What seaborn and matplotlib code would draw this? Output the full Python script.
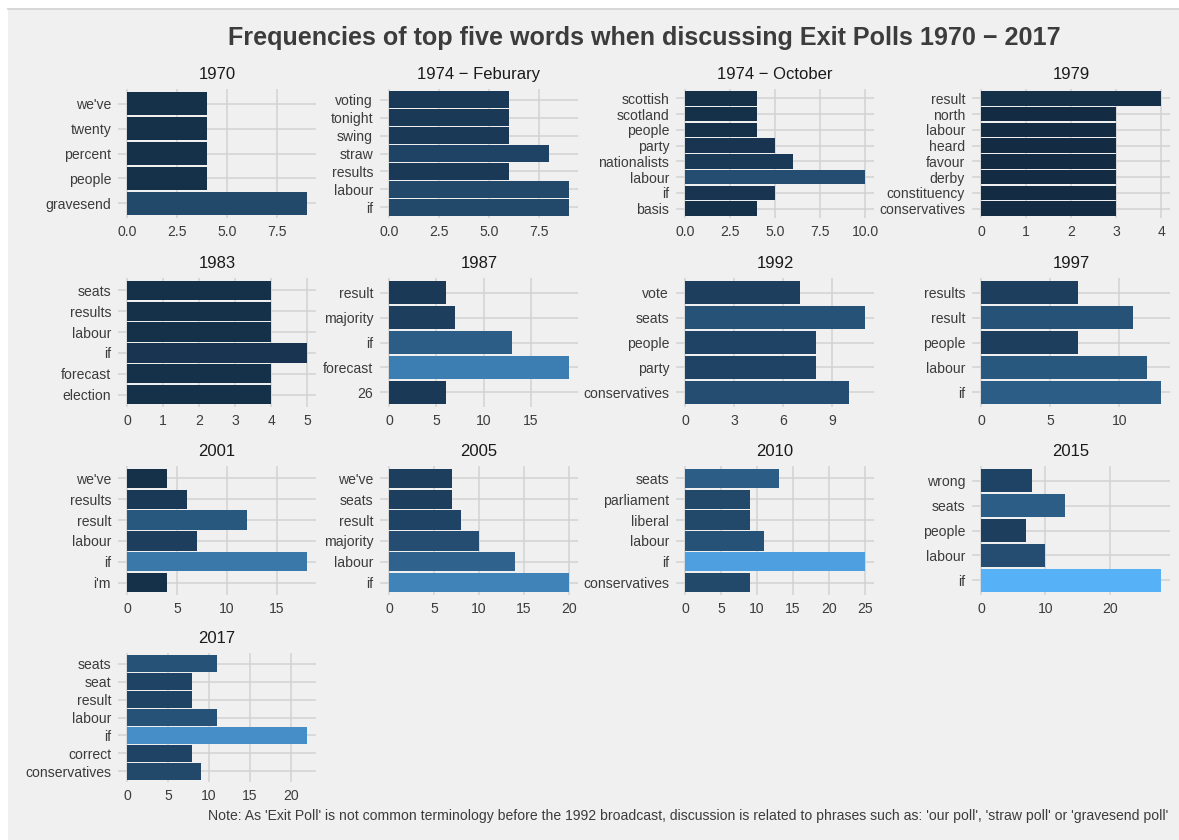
import numpy as np
import pandas as pd
import matplotlib
matplotlib.use("Agg")
import matplotlib.pyplot as plt
import matplotlib.colors as mcolors
import seaborn as sns

# ---------------- data ----------------
title_1970 = "1970"
words_1970 = ["we've", "twenty", "percent", "people", "gravesend"]
freq_1970 = [4, 4, 4, 4, 9]
ticks_1970 = ["0.0", "2.5", "5.0", "7.5"]

title_1974f = "1974 \u2212 Feburary"
words_1974f = ["voting", "tonight", "swing", "straw", "results", "labour", "if"]
freq_1974f = [6, 6, 6, 8, 6, 9, 9]
ticks_1974f = ["0.0", "2.5", "5.0", "7.5"]

title_1974o = "1974 \u2212 October"
words_1974o = ["scottish", "scotland", "people", "party", "nationalists", "labour", "if", "basis"]
freq_1974o = [4, 4, 4, 5, 6, 10, 5, 4]
ticks_1974o = ["0.0", "2.5", "5.0", "7.5", "10.0"]

title_1979 = "1979"
words_1979 = ["result", "north", "labour", "heard", "favour", "derby", "constituency", "conservatives"]
freq_1979 = [4, 3, 3, 3, 3, 3, 3, 3]
ticks_1979 = ["0", "1", "2", "3", "4"]

title_1983 = "1983"
words_1983 = ["seats", "results", "labour", "if", "forecast", "election"]
freq_1983 = [4, 4, 4, 5, 4, 4]
ticks_1983 = ["0", "1", "2", "3", "4", "5"]

title_1987 = "1987"
words_1987 = ["result", "majority", "if", "forecast", "26"]
freq_1987 = [6, 7, 13, 19, 6]
ticks_1987 = ["0", "5", "10", "15"]

title_1992 = "1992"
words_1992 = ["vote", "seats", "people", "party", "conservatives"]
freq_1992 = [7, 11, 8, 8, 10]
ticks_1992 = ["0", "3", "6", "9"]

title_1997 = "1997"
words_1997 = ["results", "result", "people", "labour", "if"]
freq_1997 = [7, 11, 7, 12, 13]
ticks_1997 = ["0", "5", "10"]

title_2001 = "2001"
words_2001 = ["we've", "results", "result", "labour", "if", "i'm"]
freq_2001 = [4, 6, 12, 7, 18, 4]
ticks_2001 = ["0", "5", "10", "15"]

title_2005 = "2005"
words_2005 = ["we've", "seats", "result", "majority", "labour", "if"]
freq_2005 = [7, 7, 8, 10, 14, 20]
ticks_2005 = ["0", "5", "10", "15", "20"]

title_2010 = "2010"
words_2010 = ["seats", "parliament", "liberal", "labour", "if", "conservatives"]
freq_2010 = [13, 9, 9, 11, 25, 9]
ticks_2010 = ["0", "5", "10", "15", "20", "25"]

title_2015 = "2015"
words_2015 = ["wrong", "seats", "people", "labour", "if"]
freq_2015 = [8, 13, 7, 10, 28]
ticks_2015 = ["0", "10", "20"]

title_2017 = "2017"
words_2017 = ["seats", "seat", "result", "labour", "if", "correct", "conservatives"]
freq_2017 = [11, 8, 8, 11, 22, 8, 9]
ticks_2017 = ["0", "5", "10", "15", "20"]

main_title = "Frequencies of top five words when discussing Exit Polls 1970 \u2212 2017"
caption = ("Note: As 'Exit Poll' is not common terminology before the 1992 broadcast, "
           "discussion is related to phrases such as: 'our poll', 'straw poll' or 'gravesend poll'")

panels = [
    (title_1970, words_1970, freq_1970, ticks_1970),
    (title_1974f, words_1974f, freq_1974f, ticks_1974f),
    (title_1974o, words_1974o, freq_1974o, ticks_1974o),
    (title_1979, words_1979, freq_1979, ticks_1979),
    (title_1983, words_1983, freq_1983, ticks_1983),
    (title_1987, words_1987, freq_1987, ticks_1987),
    (title_1992, words_1992, freq_1992, ticks_1992),
    (title_1997, words_1997, freq_1997, ticks_1997),
    (title_2001, words_2001, freq_2001, ticks_2001),
    (title_2005, words_2005, freq_2005, ticks_2005),
    (title_2010, words_2010, freq_2010, ticks_2010),
    (title_2015, words_2015, freq_2015, ticks_2015),
    (title_2017, words_2017, freq_2017, ticks_2017),
]

# ---------------- colour scale (ggplot2 default gradient, Lab interpolation) ----------------
_M = np.array([[0.4124564, 0.3575761, 0.1804375],
               [0.2126729, 0.7151522, 0.0721750],
               [0.0193339, 0.1191920, 0.9503041]])
_W = np.array([0.95047, 1.0, 1.08883])


def to_lab(c):
    rgb = np.array(mcolors.to_rgb(c))
    lin = np.where(rgb <= 0.04045, rgb / 12.92, ((rgb + 0.055) / 1.055) ** 2.4)
    t = (_M @ lin) / _W
    d = 6 / 29
    f = np.where(t > d ** 3, np.cbrt(t), t / (3 * d * d) + 4 / 29)
    return np.array([116 * f[1] - 16, 500 * (f[0] - f[1]), 200 * (f[1] - f[2])])


def from_lab(lab):
    L, a, b = lab
    fy = (L + 16) / 116
    fx = fy + a / 500
    fz = fy - b / 200
    d = 6 / 29
    f = np.array([fx, fy, fz])
    t = np.where(f > d, f ** 3, 3 * d * d * (f - 4 / 29))
    xyz = t * _W
    lin = np.linalg.solve(_M, xyz)
    lin = np.clip(lin, 0, 1)
    rgb = np.where(lin <= 0.0031308, 12.92 * lin, 1.055 * lin ** (1 / 2.4) - 0.055)
    return tuple(np.clip(rgb, 0, 1))


low_lab, high_lab = to_lab("#132B43"), to_lab("#56B1F7")
all_vals = np.concatenate([np.array(p[2]) for p in panels])
vmin, vmax = all_vals.min(), all_vals.max()


def fill(v):
    t = (v - vmin) / (vmax - vmin)
    return from_lab(low_lab + t * (high_lab - low_lab))


# ---------------- figure ----------------
plt.rcParams["font.family"] = ["Liberation Sans", "DejaVu Sans"]
W, H = 1179, 840
fig = plt.figure(figsize=(W / 100, H / 100), dpi=100)
fig.patch.set_facecolor("white")
fig.patches.append(plt.Rectangle((8 / W, 0), 1 - 8 / W, 1 - 10 / H, transform=fig.transFigure,
                                 facecolor="#F0F0F0", edgecolor="none", zorder=-10))
fig.add_artist(plt.Line2D([8 / W, 1], [1 - 9 / H, 1 - 9 / H], transform=fig.transFigure,
                          color="#D0D0D0", lw=1.2))

col_left = [118, 380, 676, 972]
panel_w = 198
row_top = [89, 278, 466, 653]
panel_h = 129

txt_col = "#3C3C3C"
grid_col = "#D2D2D2"

for i, (ttl, words, freqs, tick_labels) in enumerate(panels):
    r, c = divmod(i, 4)
    left, top = col_left[c], row_top[r]
    ax = fig.add_axes([left / W, 1 - (top + panel_h) / H, panel_w / W, panel_h / H])
    df = pd.DataFrame({"word": words, "freq": freqs})
    pal = {w: fill(v) for w, v in zip(words, freqs)}
    sns.barplot(data=df, x="freq", y="word", hue="word", palette=pal, order=words,
                hue_order=words, legend=False, orient="h", width=0.93, saturation=1,
                linewidth=0, ax=ax)
    n = len(words)
    mx = max(freqs)
    ax.set_ylim(n - 0.4, -0.6)
    ax.set_xlim(-0.05 * mx, 1.05 * mx)
    ticks = [float(t) for t in tick_labels]
    ax.set_xticks(ticks)
    ax.set_xticklabels(tick_labels)
    ax.set_xlabel("")
    ax.set_ylabel("")
    ax.set_facecolor("#F0F0F0")
    for s in ax.spines.values():
        s.set_visible(False)
    ax.grid(True, color=grid_col, lw=1.1)
    ax.set_axisbelow(True)
    ax.tick_params(length=0, labelsize=10.1, labelcolor=txt_col, pad=5)
    ax.set_title(ttl, fontsize=12, color="#1A1A1A", pad=7)

fig.text(644 / W, 1 - 38 / H, main_title, ha="center", va="center", fontsize=18.1,
         fontweight="bold", color=txt_col)
fig.text(1168 / W, 1 - 816 / H, caption, ha="right", va="center", fontsize=10.1, color=txt_col)

fig.savefig("out.png", dpi=100, facecolor=fig.get_facecolor())
